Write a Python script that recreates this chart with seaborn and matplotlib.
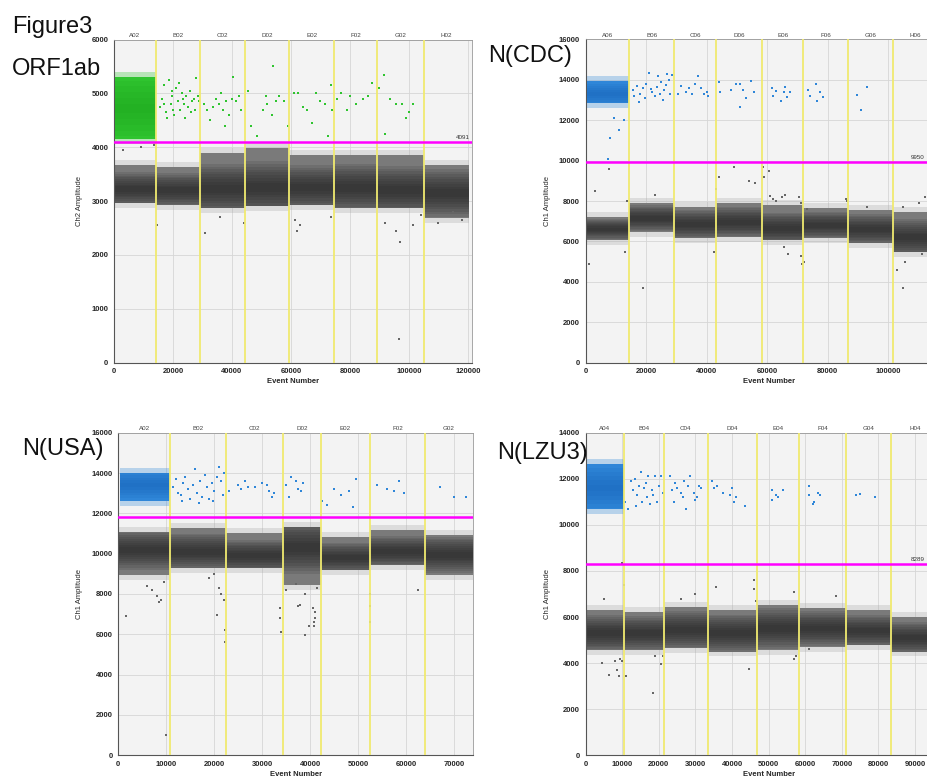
import numpy as np
import pandas as pd
import matplotlib
matplotlib.use("Agg")
import matplotlib.pyplot as plt
import matplotlib.transforms as mtrans
import seaborn as sns

# ---- ORF1ab (Ch2, FAM-like green) ----
orf_wells = ["A02", "B02", "C02", "D02", "E02", "F02", "G02", "H02"]
orf_edges = [0, 14130, 29260, 44400, 59430, 74580, 89260, 105200, 120400]
orf_low = [2960, 2930, 2870, 2900, 2930, 2870, 2870, 2690]
orf_high = [3670, 3640, 3890, 3985, 3855, 3855, 3855, 3670]
orf_core = [3220, 3200, 3230, 3250, 3250, 3250, 3200, 3150]
orf_pos_band = [4150, 5300, 4720]  # low, high, core of dense A02 cluster
orf_pos_x = [15500, 16200, 17000, 17800, 18500, 19200, 19800, 20500, 21000, 21800,
             22500, 23000, 23800, 24500, 25200, 25800, 26500, 27000, 27800, 28500,
             18000, 20000, 24000, 26000, 22000, 16800, 19500, 23500, 27300, 28800,
             30500, 31500, 32500, 33500, 34500, 35500, 36200, 37000, 38000, 39000,
             40000, 40500, 41500, 42500, 43000, 37500,
             45500, 46500, 48500, 50500, 51500, 52000, 53500, 54000, 55000, 56000, 57500, 59000,
             61000, 62500, 64000, 65500, 67000, 68500, 70000, 71500, 72500, 73500, 74000,
             75500, 77000, 79000, 80000, 82000, 84500, 86000, 87500,
             90000, 91500, 92000, 93500, 95500, 97500, 99000, 100000, 101500]
orf_pos_y = [4750, 4900, 5150, 4650, 5250, 4800, 4950, 4600, 5100, 4850,
             4700, 5000, 4800, 4950, 4750, 5050, 4850, 4900, 5280, 4950,
             4550, 4700, 4550, 4650, 5200, 4800, 5050, 4900, 4700, 4850,
             4800, 4700, 4500, 4750, 4900, 4800, 5000, 4700, 4850, 4600,
             4900, 5300, 4850, 4950, 4700, 4400,
             5050, 4400, 4200, 4700, 4950, 4800, 4600, 5500, 4850, 4950, 4850, 4400,
             5000, 5000, 4750, 4700, 4450, 5000, 4850, 4800, 4200, 5150, 4700,
             4900, 5000, 4700, 4950, 4800, 4900, 4950, 5200,
             5100, 5350, 4250, 4900, 4800, 4800, 4550, 4650, 4800]
orf_neg_x = [3000, 9000, 13500, 14500, 36000, 44000, 61500, 62000, 63000, 73500,
             92000, 95500, 97000, 101500, 104000, 110000, 118000, 96600, 30800, 115000]
orf_neg_y = [3950, 4000, 4050, 2550, 2700, 2600, 2650, 2450, 2550, 2700,
             2600, 2450, 2250, 2550, 2750, 2600, 2650, 440, 2400, 2800]
orf_thr = 4091

# ---- N(CDC) (Ch1, blue) ----
cdc_wells = ["A06", "B06", "C06", "D06", "E06", "F06", "G06", "H06"]
cdc_edges = [0, 14300, 29280, 43160, 58260, 71900, 86780, 101650, 116000]
cdc_low = [6070, 6480, 6150, 6230, 6070, 6150, 5900, 5490]
cdc_high = [7220, 7915, 7720, 7915, 7800, 7640, 7555, 7470]
cdc_core = [6600, 7140, 6850, 6950, 6650, 6800, 6600, 6200]
cdc_pos_band = [12850, 13950, 13300]
cdc_pos_x = [15500, 16000, 17000, 18000, 19000, 20000, 21000, 22000, 23000, 24000,
             25000, 26000, 27000, 27500, 28000, 19500, 21500, 23500, 25500, 26500,
             17500, 24500, 28500,
             30500, 31500, 33000, 34000, 35000, 36000, 37000, 38000, 39000, 40000, 40500,
             44000, 44500, 48000, 49500, 51000, 51000, 52000, 53000, 54500, 55500,
             61500, 62000, 63000, 64500, 65500, 66000, 66500, 67500,
             73500, 74000, 76000, 76500, 77500, 78500,
             89500, 91000, 93000,
             9500, 8000, 11000, 12800, 7500]
cdc_pos_y = [13500, 13200, 13700, 13300, 13600, 13800, 14350, 13400, 13200, 14200,
             13900, 13500, 14300, 14000, 13300, 13100, 13550, 13650, 13000, 13750,
             12900, 13300, 14250,
             13300, 13700, 13400, 13600, 13300, 13800, 14200, 13600, 13300, 13400, 13200,
             13900, 13400, 13500, 13800, 13800, 12650, 13500, 13100, 13950, 13400,
             13600, 13200, 13450, 12950, 13400, 13650, 13150, 13400,
             13500, 13200, 13800, 12950, 13400, 13150,
             13250, 12500, 13650,
             12100, 11100, 11500, 12000, 10100]
cdc_neg_x = [3000, 7800, 13500, 23000, 43000, 44000, 49000, 54000, 56000, 58500,
             59000, 60500, 61000, 62000, 63000, 65000, 66000, 70500, 71000, 73000,
             86000, 86500, 93000, 105000, 110000, 112000,
             1000, 13000, 18800, 42500, 65500, 67000, 71000, 71500, 72000, 105000,
             105500, 111000, 103000]
cdc_neg_y = [8500, 9600, 8000, 8300, 8600, 9200, 9700, 9000, 8900, 9700,
             9200, 9500, 8250, 8100, 8000, 8200, 8300, 8200, 7900, 7600,
             8100, 8000, 7700, 7700, 7900, 8200,
             4900, 5500, 3700, 5500, 5700, 5400, 5300, 4900, 5000, 3700,
             5000, 5400, 4600]
cdc_thr = 9950

# ---- N(USA) (Ch1, blue) ----
usa_wells = ["A02", "B02", "C02", "D02", "E02", "F02", "G02"]
usa_edges = [0, 10840, 22390, 34340, 42200, 52540, 63880, 74000]
usa_low = [8940, 9270, 9270, 8450, 9190, 9440, 8940]
usa_high = [11090, 11260, 11010, 11340, 10840, 11170, 10930]
usa_core = [10180, 10100, 9900, 10300, 9800, 10100, 9950]
usa_pos_band = [12600, 14000, 13400]
usa_pos_x = [11500, 12000, 12500, 13000, 13500, 14000, 14500, 15000, 15500, 16000,
             16500, 17000, 17500, 18000, 18500, 19000, 19500, 20000, 20500, 21000,
             21500, 22000, 21800, 13200, 16800, 19800,
             23000, 25000, 25500, 26500, 27000, 28500, 30000, 31000, 31500, 32000, 32500,
             35000, 35500, 36000, 37000, 37500, 38000, 38500,
             42500, 43500, 45000, 46500, 48000, 49000, 49500,
             54000, 56000, 57500, 58500, 59500,
             67000, 70000, 72500]
usa_pos_y = [13300, 13700, 13000, 12900, 13500, 13800, 13200, 12700, 13400, 14200,
             13000, 13600, 12800, 13900, 13300, 12700, 13500, 13100, 13800, 14300,
             13600, 14000, 12900, 12600, 12500, 12600,
             13100, 13400, 13200, 13600, 13300, 13300, 13500, 13400, 13100, 12800, 13000,
             13400, 12800, 13800, 13600, 13200, 13100, 13500,
             12600, 12400, 13200, 12900, 13100, 12300, 13700,
             13400, 13200, 13100, 13600, 13000,
             13300, 12800, 12800]
usa_neg_x = [1700, 10000, 8500, 9000, 20500, 22000, 22300, 22300, 33800, 33800,
             34000, 37500, 37800, 38900, 39800, 40500, 40800, 40800, 41000, 41000,
             52500, 52500, 52500, 62500, 6000, 7000, 8000, 21500, 21000, 20000,
             35000, 37000, 39000, 41500, 9500, 19000]
usa_neg_y = [6900, 1000, 7600, 7700, 6950, 7700, 6200, 5600, 7300, 6800,
             6100, 7400, 7450, 5950, 6400, 7300, 6600, 6400, 6800, 7100,
             7400, 6600, 8000, 8200, 8400, 8200, 7900, 8000, 8300, 9000,
             8200, 8500, 8000, 8300, 8600, 8800]
usa_thr = 11800

# ---- N(LZU3) (Ch1, blue) ----
lzu_wells = ["A04", "B04", "C04", "D04", "E04", "F04", "G04", "H04"]
lzu_edges = [0, 10470, 21400, 33340, 46730, 58380, 71060, 83360, 96600]
lzu_low = [4570, 4570, 4640, 4500, 4570, 4710, 4790, 4500]
lzu_high = [6300, 6230, 6450, 6300, 6520, 6380, 6300, 6015]
lzu_core = [5300, 5300, 5450, 5300, 5500, 5500, 5400, 5100]
lzu_pos_band = [10700, 12650, 11600]
lzu_pos_x = [10800, 11500, 12500, 13000, 13500, 14000, 14500, 15000, 15500, 16000,
             16500, 17000, 17500, 18000, 18500, 19000, 19500, 20000, 20500, 21000,
             16800, 13800,
             23000, 23500, 24000, 24500, 25000, 26000, 26500, 27000, 27500, 28000,
             28500, 29500, 30000, 30500, 31000, 31500,
             34500, 35000, 36000, 37500, 39500, 40000, 40500, 41000, 43500,
             51000, 51000, 52000, 52500, 54000,
             61000, 61000, 62000, 62500, 63500, 64000,
             74000, 75000, 79000]
lzu_pos_y = [11000, 10700, 11900, 11500, 12000, 11300, 11700, 12300, 11000, 11600,
             11800, 12100, 10900, 11500, 11300, 12100, 11000, 11700, 12100, 11400,
             11200, 10800,
             12100, 11500, 11000, 11800, 11600, 11400, 11200, 11900, 10700, 11700,
             12100, 11400, 11100, 11200, 11700, 11600,
             11900, 11600, 11700, 11400, 11300, 11600, 11000, 11200, 10800,
             11500, 11100, 11300, 11200, 11500,
             11700, 11300, 10900, 11000, 11400, 11300,
             11300, 11350, 11200]
lzu_neg_x = [10000, 10500, 35500, 46000, 46000, 46500, 57000, 68500, 4500, 6500,
             8000, 8500, 9000, 9500, 10000, 11000, 18500, 19000, 20500, 21000,
             44500, 57000, 57500, 61000, 5000, 26000, 30000]
lzu_neg_y = [8350, 7400, 7300, 7600, 7200, 6700, 7100, 6900, 4000, 3500,
             4100, 3700, 3450, 4200, 4100, 3450, 2700, 4300, 3950, 4300,
             3750, 4200, 4300, 4600, 6800, 6800, 7000]
lzu_thr = 8289


def shaded_band(ax, left, width, low, high, core, base, shade, steps, zorder):
    """Stack nested bars around the core so the band darkens towards its centre."""
    spread = high - low
    ax.bar(left, spread, width=width, bottom=low, align="edge",
           color=base, linewidth=0, zorder=zorder)
    for f in np.linspace(0.9, 0.15, steps):
        lo = np.maximum(core - spread * f / 2, low)
        hi = np.minimum(core + spread * f / 2, high)
        ax.bar(left, hi - lo, width=width, bottom=lo, align="edge",
               color=shade, alpha=0.12, linewidth=0, zorder=zorder)


def draw_panel(ax, wells, edges, low, high, core, pos_band, pos_x, pos_y,
               neg_x, neg_y, thr, xmax, ymax, xticks, ystep, pos_col, pos_dark,
               ylabel, thr_label):
    ax.set_facecolor("#f3f3f3")
    left = np.array(edges[:-1], dtype=float)
    width = np.diff(edges).astype(float)
    low = np.array(low, dtype=float)
    high = np.array(high, dtype=float)
    core = np.array(core, dtype=float)

    # speckled fringe around the negative droplet bands
    pad = ymax * 0.015
    ax.bar(left, high - low + 2 * pad, width=width, bottom=low - pad, align="edge",
           color="#a8a8a8", alpha=0.3, linewidth=0, zorder=2)
    shaded_band(ax, left, width, low, high, core, "#7a7a7a", "#1e1e1e", 9, 2)

    # dense positive cluster in the first well
    plo, phi, pc = pos_band
    pl = np.array([edges[0] + 300.0])
    pw = np.array([edges[1] - edges[0] - 300.0])
    ax.bar(pl, [phi - plo + 2 * pad], width=pw, bottom=[plo - pad], align="edge",
           color=pos_col, alpha=0.3, linewidth=0, zorder=3)
    shaded_band(ax, pl, pw, np.array([plo]), np.array([phi]), np.array([pc]),
                pos_col, pos_dark, 5, 3)

    pos = pd.DataFrame({"event": pos_x, "amp": pos_y})
    neg = pd.DataFrame({"event": neg_x, "amp": neg_y})
    sns.scatterplot(data=pos, x="event", y="amp", ax=ax, color=pos_col,
                    marker="s", s=4, linewidth=0, zorder=4)
    sns.scatterplot(data=neg, x="event", y="amp", ax=ax, color="#666666",
                    marker="s", s=3, linewidth=0, zorder=4)

    for e in edges[1:-1]:
        ax.axvline(e, color="#f0ea70", lw=1.3, zorder=5)
    ax.axhline(thr, color="#ff00ff", lw=1.8, zorder=6)
    if thr_label:
        # label sits at the right end of the line, kept inside the figure
        tr = mtrans.blended_transform_factory(ax.figure.transFigure, ax.transData)
        right = min(ax.get_position().x1, 0.998)
        ax.text(right - 0.002, thr + ymax * 0.006, thr_label, ha="right",
                va="bottom", fontsize=4.5, color="#333333", zorder=7,
                transform=tr, clip_on=False)

    centers = [(edges[i] + edges[i + 1]) / 2 for i in range(len(wells))]
    for c, w in zip(centers, wells):
        ax.text(c, ymax * 1.004, w, ha="center", va="bottom", fontsize=4.5,
                color="#444444")

    ax.set_xlim(0, xmax)
    ax.set_ylim(0, ymax)
    ax.set_xticks(xticks)
    ax.set_yticks(np.arange(0, ymax + 1, ystep))
    ax.grid(True, color="#d6d6d6", lw=0.6, zorder=1)
    ax.set_axisbelow(True)
    ax.tick_params(labelsize=5.5, length=2, width=0.6, pad=2)
    for lab in ax.get_xticklabels() + ax.get_yticklabels():
        lab.set_fontweight("bold")
    ax.set_xlabel("Event Number", fontsize=5.5, fontweight="bold", labelpad=2)
    ax.set_ylabel(ylabel, fontsize=5.5, labelpad=6)
    for s in ["left", "bottom"]:
        ax.spines[s].set_color("#555555")
        ax.spines[s].set_linewidth(0.8)
    for s in ["top", "right"]:
        ax.spines[s].set_color("#999999")
        ax.spines[s].set_linewidth(0.6)


sns.set_style("white")
plt.rcParams["font.family"] = ["Liberation Sans", "DejaVu Sans"]

fig = plt.figure(figsize=(9.28, 7.8), dpi=100)
W, H = 928.0, 780.0

ax1 = fig.add_axes([114 / W, 1 - 362.7 / H, 357.7 / W, 323.2 / H])
ax2 = fig.add_axes([585.7 / W, 1 - 362.7 / H, 366.2 / W, 323.4 / H])
ax3 = fig.add_axes([118.3 / W, 1 - 755.3 / H, 355.0 / W, 322.6 / H])
ax4 = fig.add_axes([585.7 / W, 1 - 755.3 / H, 365.9 / W, 322.6 / H])

draw_panel(ax1, orf_wells, orf_edges, orf_low, orf_high, orf_core, orf_pos_band,
           orf_pos_x, orf_pos_y, orf_neg_x, orf_neg_y, orf_thr,
           121300, 6000, np.arange(0, 120001, 20000), 1000,
           "#2fc42f", "#1a9f1a", "Ch2 Amplitude", "4091")
draw_panel(ax2, cdc_wells, cdc_edges, cdc_low, cdc_high, cdc_core, cdc_pos_band,
           cdc_pos_x, cdc_pos_y, cdc_neg_x, cdc_neg_y, cdc_thr,
           121000, 16000, np.arange(0, 100001, 20000), 2000,
           "#2f86d8", "#145fb5", "Ch1 Amplitude", "9950")
draw_panel(ax3, usa_wells, usa_edges, usa_low, usa_high, usa_core, usa_pos_band,
           usa_pos_x, usa_pos_y, usa_neg_x, usa_neg_y, usa_thr,
           74000, 16000, np.arange(0, 70001, 10000), 2000,
           "#2f86d8", "#145fb5", "Ch1 Amplitude", None)
draw_panel(ax4, lzu_wells, lzu_edges, lzu_low, lzu_high, lzu_core, lzu_pos_band,
           lzu_pos_x, lzu_pos_y, lzu_neg_x, lzu_neg_y, lzu_thr,
           100000, 14000, np.arange(0, 90001, 10000), 2000,
           "#2f86d8", "#145fb5", "Ch1 Amplitude", "8289")

fig.text(12 / W, 1 - 33 / H, "Figure3", fontsize=17, color="#111111")
fig.text(12 / W, 1 - 75 / H, "ORF1ab", fontsize=17, color="#111111")
fig.text(488 / W, 1 - 62 / H, "N(CDC)", fontsize=17, color="#111111")
fig.text(22 / W, 1 - 455 / H, "N(USA)", fontsize=17, color="#111111")
fig.text(497 / W, 1 - 459 / H, "N(LZU3)", fontsize=17, color="#111111")

fig.savefig("out.png", dpi=100)
